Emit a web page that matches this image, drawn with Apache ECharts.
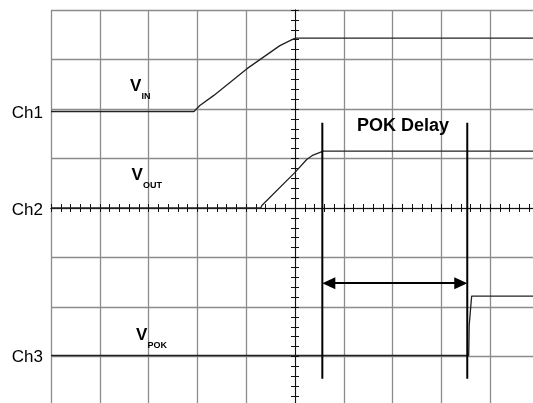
<!DOCTYPE html>
<html>
	<head>
		<meta http-equiv="Content-Type" content="text/html; charset=UTF-8">
		<title>POK Delay</title>
		<script type='text/javascript' src="https://cdn.jsdelivr.net/npm/echarts@6/dist/echarts.min.js"></script>
		<style>
			body { margin: 0; background: #fff; }
			#main { width: 533px; height: 403px; }
		</style>
	</head>
	<body>
		<div id="main"></div>
		<script type='text/javascript'>
			// x in divisions from screen centre, y in divisions from Ch2
			var vinX = [-5, -2.07, -1.95, -1.67, -0.99, -0.31, -0.04, 0.02, 5];
			var vinY = [1.95, 1.95, 2.07, 2.27, 2.81, 3.28, 3.41, 3.43, 3.43];
			var voutX = [-5, -0.70, -0.68, 0, 0.24, 0.37, 0.58, 5];
			var voutY = [0, 0, 0.05, 0.72, 0.98, 1.07, 1.15, 1.15];
			var vpokX = [-5, 3.56, 3.57, 3.62, 5];
			var vpokY = [-2.98, -2.98, -2.36, -1.78, -1.78];
			var cursorX = [0.56, 3.53];
			var cursorY = [1.72, -3.45];
			var arrowY = -1.52;

			var FONT = '"Liberation Sans", Arial, sans-serif';
			var GRID = '#8c8c8c';
			var INK = '#111';
			var HEAD = 13; // arrow head length in px

			function pts(xs, ys){
				var out = [];
				for(var i = 0; i < xs.length; i++){
					out.push([xs[i], ys[i]]);
				}
				return out;
			}

			function trace(name, xs, ys){
				return {
					name: name,
					type: 'line',
					data: pts(xs, ys),
					symbol: 'none',
					silent: true,
					z: 3,
					lineStyle: {color: '#222', width: 1.3}
				};
			}

			function centreAxis(dim, pos, grid){
				return {
					type: 'value',
					position: pos,
					min: dim == 'x' ? -5 : -4,
					max: dim == 'x' ? 5 : 4,
					interval: 1,
					axisLine: {show: true, onZero: true, onZeroAxisIndex: 0, lineStyle: {color: INK, width: 1}},
					axisTick: {show: true, length: 4, lineStyle: {color: INK, width: 1}},
					minorTick: {show: true, splitNumber: 5, length: 4, lineStyle: {color: INK, width: 1}},
					axisLabel: {show: false},
					splitLine: {show: grid, lineStyle: {color: GRID, width: 1.3}},
					z: 1
				};
			}

			// white boxes behind the labels cut the grid lines like in the scope shot
			function box(x, y, w, h){
				return {type: 'rect', z: 1, silent: true, shape: {x: x, y: y, width: w, height: h}, style: {fill: '#fff'}};
			}

			function txt(s, x, y, size, bold, align){
				return {
					type: 'text', z: 5, silent: true, x: x, y: y,
					style: {
						text: s, fill: '#000',
						font: (bold ? 'bold ' : '') + size + 'px ' + FONT,
						textAlign: align || 'left', align: align || 'left',
						textVerticalAlign: 'middle', verticalAlign: 'middle'
					}
				};
			}

			var chart = echarts.init(document.getElementById('main'));

			var cursors = [];
			for(var i = 0; i < cursorX.length; i++){
				cursors.push({
					type: 'line',
					data: [[cursorX[i], cursorY[0]], [cursorX[i], cursorY[1]]],
					symbol: 'none',
					silent: true,
					z: 4,
					lineStyle: {color: '#000', width: 2}
				});
			}

			var option = {
				animation: false,
				backgroundColor: '#fff',
				grid: {left: 51, top: 10, width: 488, height: 396, containLabel: false, outerBoundsMode: 'none', show: false},
				xAxis: [centreAxis('x', 'bottom', true), centreAxis('x', 'top', false)],
				yAxis: [centreAxis('y', 'left', true), centreAxis('y', 'right', false)],
				series: [
					trace('VIN', vinX, vinY),
					trace('VOUT', voutX, voutY),
					trace('VPOK', vpokX, vpokY)
				].concat(cursors),
				graphic: [
					box(124, 73, 38, 34),
					box(124, 161, 44, 41),
					box(130, 322, 44, 33),
					box(336, 104, 134, 42),
					txt('Ch1', 43, 113, 17, false, 'right'),
					txt('Ch2', 43, 210, 17, false, 'right'),
					txt('Ch3', 43, 357, 17, false, 'right'),
					txt('V', 130, 86, 17, true),
					txt('IN', 141.5, 97, 9, true),
					txt('V', 131.5, 175.5, 17, true),
					txt('OUT', 143, 186, 9, true),
					txt('V', 136, 335.5, 17, true),
					txt('POK', 147.5, 346, 9, true),
					txt('POK Delay', 403, 126, 18, true, 'center')
				]
			};
			chart.setOption(option);

			// double arrow between the cursors; pull the ends in so the tips touch the cursor lines
			var a = chart.convertToPixel({gridIndex: 0}, [cursorX[0], arrowY]);
			var b = chart.convertToPixel({gridIndex: 0}, [cursorX[1], arrowY]);
			var p0 = chart.convertFromPixel({gridIndex: 0}, [a[0] + HEAD / 2, a[1]]);
			var p1 = chart.convertFromPixel({gridIndex: 0}, [b[0] - HEAD / 2, b[1]]);
			chart.setOption({
				series: [{}, {}, {}, {
					markLine: {
						silent: true,
						symbol: ['triangle', 'triangle'],
						symbolSize: [12, HEAD],
						label: {show: false},
						lineStyle: {color: '#000', width: 2, type: 'solid'},
						emphasis: {disabled: true},
						data: [[{coord: [p0[0], arrowY]}, {coord: [p1[0], arrowY]}]]
					}
				}]
			});
		</script>
	</body>
</html>
